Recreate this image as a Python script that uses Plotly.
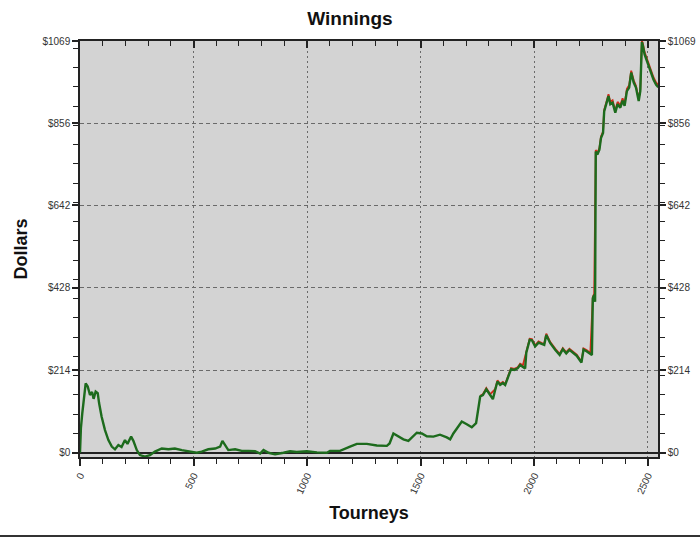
import plotly.graph_objects as go

tourneys = [0, 4, 10, 15, 25, 34, 44, 53, 60, 69, 78, 84, 95, 110, 125, 140, 154, 169, 183, 198,
            209, 225, 235, 250, 264, 286, 308, 330, 360, 389, 418, 448, 492, 514, 536, 565, 595,
            617, 627, 639, 653, 683, 712, 741, 771, 793, 808, 830, 859, 896, 925, 954, 999, 1043,
            1087, 1101, 1145, 1189, 1219, 1263, 1307, 1351, 1363, 1380, 1402, 1424, 1446, 1468,
            1483, 1505, 1527, 1556, 1585, 1615, 1630, 1644, 1659, 1681, 1703, 1725, 1744, 1750,
            1762, 1774, 1789, 1806, 1818, 1828, 1838, 1850, 1862, 1872, 1887, 1898, 1912, 1927,
            1938, 1950, 1960, 1965, 1980, 1990, 2004, 2019, 2034, 2044, 2053, 2070, 2093, 2112,
            2126, 2141, 2155, 2170, 2187, 2208, 2217, 2232, 2247, 2254, 2258, 2264, 2268, 2271,
            2278, 2287, 2294, 2303, 2308, 2317, 2327, 2335, 2345, 2357, 2367, 2379, 2389, 2398,
            2408, 2418, 2427, 2438, 2448, 2460, 2467, 2474, 2478, 2486, 2496, 2511, 2525, 2537, 2546]
dollars = [0, 64, 102, 129, 180, 172, 150, 158, 140, 159, 155, 129, 94, 59, 33, 16, 9, 20, 15, 33,
           23, 42, 31, 7, -6, -10, -6, 3, 11, 9, 11, 7, 3, 0, 3, 9, 11,
           16, 31, 20, 7, 9, 5, 5, 4, -2, 7, 0, -4, 0, 4, 2, 4, 1,
           0, 5, 5, 16, 23, 23, 19, 18, 24, 50, 42, 35, 31, 42,
           52, 50, 43, 42, 47, 40, 35, 50, 63, 81, 74, 66, 77, 102,
           146, 150, 165, 150, 139, 163, 185, 176, 181, 176, 198, 217, 215, 219,
           228, 224, 219, 260, 293, 292, 276, 286, 282, 280, 306, 285, 267, 254,
           269, 258, 267, 260, 252, 234, 268, 263, 256, 254, 401, 410, 392, 782,
           774, 787, 817, 830, 886, 904, 926, 905, 909, 883, 905, 896, 914, 901,
           939, 948, 987, 961, 948, 913, 939, 1066, 1058, 1034, 1017, 991, 969, 955, 949]

red_tourneys = [1762, 1774, 1789, 1806, 1828, 1838, 1850, 1862, 1872, 1898, 1912, 1927, 1938, 1950,
                1980, 1990, 2004, 2019, 2034, 2044, 2053, 2070, 2093, 2112, 2126, 2141, 2155, 2170,
                2187, 2208, 2217, 2232, 2247, 2258, 2264, 2271, 2278, 2287, 2294, 2303, 2308, 2317,
                2327, 2335, 2345, 2357, 2367, 2379, 2389, 2398, 2408, 2418, 2427, 2438, 2448, 2460,
                2467, 2474, 2478, 2486, 2496, 2511, 2525, 2537, 2546]
red_dollars = [148, 152, 168, 152, 165, 188, 179, 184, 178, 220, 218, 222, 231, 227,
               296, 295, 279, 289, 285, 283, 309, 288, 270, 257, 272, 261, 270, 263,
               255, 237, 271, 266, 259, 404, 413, 786, 778, 791, 821, 834, 890, 909,
               931, 911, 915, 888, 911, 902, 920, 906, 945, 954, 992, 967, 953, 918,
               944, 1069, 1064, 1040, 1023, 997, 975, 961, 955]

y_tickvals = [0, 214, 428, 642, 856, 1069]
y_ticktext = ["$0", "$214", "$428", "$642", "$856", "$1069"]
x_tickvals = [0, 500, 1000, 1500, 2000, 2500]

fig = go.Figure()
fig.add_trace(go.Scatter(x=red_tourneys, y=red_dollars, mode="lines",
                         line=dict(color="#d42a1a", width=1.8), hoverinfo="skip", showlegend=False))
fig.add_trace(go.Scatter(x=tourneys, y=dollars, mode="lines",
                         line=dict(color="#1d6b1d", width=2.4), showlegend=False))
# invisible trace to activate the secondary axes
fig.add_trace(go.Scatter(x=[0], y=[0], mode="markers", marker=dict(opacity=0),
                         xaxis="x2", yaxis="y2", hoverinfo="skip", showlegend=False))

tickfont = dict(family="Liberation Sans, Arial, sans-serif", size=10, color="#333333")
xrange = [0, 2545]
yrange = [-11, 1069]

fig.update_layout(
    width=700, height=537,
    paper_bgcolor="white", plot_bgcolor="#d3d3d3",
    margin=dict(l=80, r=42, t=41, b=80, autoexpand=False),
    title=dict(text="<b>Winnings</b>", x=0.5, xanchor="center", y=0.978, yanchor="top",
               font=dict(family="Liberation Sans, Arial, sans-serif", size=19, color="#111111")),
    xaxis=dict(range=xrange, tickmode="array", tickvals=x_tickvals, automargin=False,
               ticks="outside", ticklen=7, tickwidth=1.5, tickcolor="#222222",
               tickangle=-65, tickfont=tickfont,
               showline=True, linecolor="#222222", linewidth=1.5,
               showgrid=True, gridcolor="#6a6a6a", griddash="2px,3px", gridwidth=1,
               zeroline=False,
               minor=dict(tickmode="linear", tick0=0, dtick=100, ticks="outside", ticklen=5,
                          tickwidth=1, tickcolor="#222222", showgrid=False),
               title=dict(text="<b>Tourneys</b>", standoff=12,
                          font=dict(family="Liberation Sans, Arial, sans-serif", size=18, color="#111111"))),
    xaxis2=dict(range=xrange, overlaying="x", side="top", matches="x", automargin=False,
                tickmode="array", tickvals=x_tickvals, ticks="inside", ticklen=7, tickwidth=1.5,
                tickcolor="#222222", showticklabels=False,
                showline=True, linecolor="#222222", linewidth=1.5, showgrid=False, zeroline=False,
                minor=dict(tickmode="linear", tick0=0, dtick=100, ticks="inside", ticklen=5,
                           tickwidth=1, tickcolor="#222222", showgrid=False)),
    yaxis=dict(range=yrange, tickmode="array", tickvals=y_tickvals, ticktext=y_ticktext,
               automargin=False,
               ticks="outside", ticklen=6, tickwidth=1.5, tickcolor="#222222", tickfont=tickfont,
               showline=True, linecolor="#222222", linewidth=1.5,
               showgrid=True, gridcolor="#6a6a6a", griddash="4px,3px", gridwidth=1,
               zeroline=True, zerolinecolor="#222222", zerolinewidth=1.5,
               minor=dict(tickmode="linear", tick0=0, dtick=50, ticks="outside", ticklen=5,
                          tickwidth=1, tickcolor="#222222", showgrid=False),
               title=dict(text="<b>Dollars</b>", standoff=10,
                          font=dict(family="Liberation Sans, Arial, sans-serif", size=18, color="#111111"))),
    yaxis2=dict(range=yrange, overlaying="y", side="right", matches="y", automargin=False,
                tickmode="array", tickvals=y_tickvals, ticktext=y_ticktext,
                ticks="outside", ticklen=6, tickwidth=1.5, tickcolor="#222222", tickfont=tickfont,
                showline=True, linecolor="#222222", linewidth=1.5, showgrid=False, zeroline=False,
                minor=dict(tickmode="linear", tick0=0, dtick=50, ticks="outside", ticklen=5,
                           tickwidth=1, tickcolor="#222222", showgrid=False)),
)

fig.add_shape(type="line", xref="paper", yref="paper", x0=-0.2, x1=1.2, y0=-0.19, y1=-0.19,
              line=dict(color="#333333", width=2))

fig.write_html("out.html", config={"displayModeBar": False},
               post_script="document.body.style.margin='0';")
